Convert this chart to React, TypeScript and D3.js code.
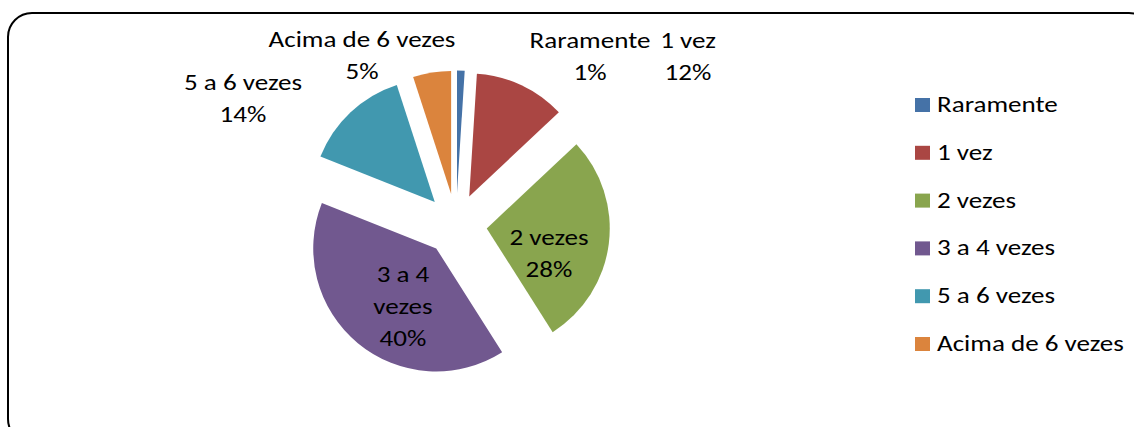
import React, { useEffect, useRef } from "react";
import { select, pie, arc } from "d3";

const categories = ["Raramente", "1 vez", "2 vezes", "3 a 4 vezes", "5 a 6 vezes", "Acima de 6 vezes"];
const values = [1, 12, 28, 40, 14, 5];
const colors = ["#4572A7", "#AA4643", "#89A54E", "#71588F", "#4198AF", "#DB843D"];
// data label lines as shown in the chart
const labelLines = [
  ["Raramente", "1%"],
  ["1 vez", "12%"],
  ["2 vezes", "28%"],
  ["3 a 4", "vezes", "40%"],
  ["5 a 6 vezes", "14%"],
  ["Acima de 6 vezes", "5%"],
];
// label anchor (center x, first baseline y)
const labelPos = [
  [590, 48],
  [688, 48],
  [549, 245],
  [403, 282],
  [243, 90],
  [362, 47],
];

const FONT = "Carlito, Calibri, Lato, sans-serif";
const FONT_SIZE = 22;
const STRETCH = 1.23; // the source font is wider than Lato

function PieChart() {
  const svgRef = useRef(null);

  useEffect(() => {
    const svg = select(svgRef.current);
    svg.selectAll("*").remove();

    const cx = 456;
    const cy = 224.5;
    const radius = 123;
    const explode = 31;

    svg
      .append("rect")
      .attr("x", 8)
      .attr("y", 13)
      .attr("width", 1145)
      .attr("height", 430)
      .attr("rx", 24)
      .attr("fill", "#fff")
      .attr("stroke", "#000")
      .attr("stroke-width", 2);

    const pieGen = pie().value((d) => d).sort(null);
    const arcs = pieGen(values);
    const arcGen = arc().innerRadius(0).outerRadius(radius);

    const g = svg.append("g").attr("transform", `translate(${cx},${cy})`);
    g.selectAll("path")
      .data(arcs)
      .join("path")
      .attr("d", arcGen)
      .attr("fill", (d, i) => colors[i])
      .attr("transform", (d) => {
        const mid = (d.startAngle + d.endAngle) / 2;
        return `translate(${explode * Math.sin(mid)},${-explode * Math.cos(mid)})`;
      });

    // data labels
    labelLines.forEach((lines, i) => {
      const t = svg
        .append("g")
        .attr("transform", `translate(${labelPos[i][0]},0) scale(${STRETCH},1)`)
        .append("text")
        .attr("text-anchor", "middle")
        .attr("font-family", FONT)
        .attr("font-size", FONT_SIZE)
        .attr("fill", "#000");
      lines.forEach((line, j) => {
        t.append("tspan")
          .attr("x", 0)
          .attr("y", labelPos[i][1] + j * 32)
          .text(line);
      });
    });

    // legend
    const legend = svg.append("g").attr("transform", "translate(915,112)");
    const items = legend
      .selectAll("g")
      .data(categories)
      .join("g")
      .attr("transform", (d, i) => `translate(0,${i * 47.8})`);
    items
      .append("rect")
      .attr("x", 0)
      .attr("y", -14)
      .attr("width", 15)
      .attr("height", 14)
      .attr("fill", (d, i) => colors[i]);
    items
      .append("g")
      .attr("transform", `translate(22,0) scale(${STRETCH},1)`)
      .append("text")
      .attr("x", 0)
      .attr("y", 0)
      .attr("font-family", FONT)
      .attr("font-size", FONT_SIZE)
      .attr("fill", "#000")
      .text((d) => d);
  }, []);

  return (
    <svg
      ref={svgRef}
      width={1134}
      height={427}
      style={{ position: "absolute", left: 0, top: 0, display: "block" }}
    />
  );
}

export default function App() {
  return <PieChart />;
}
